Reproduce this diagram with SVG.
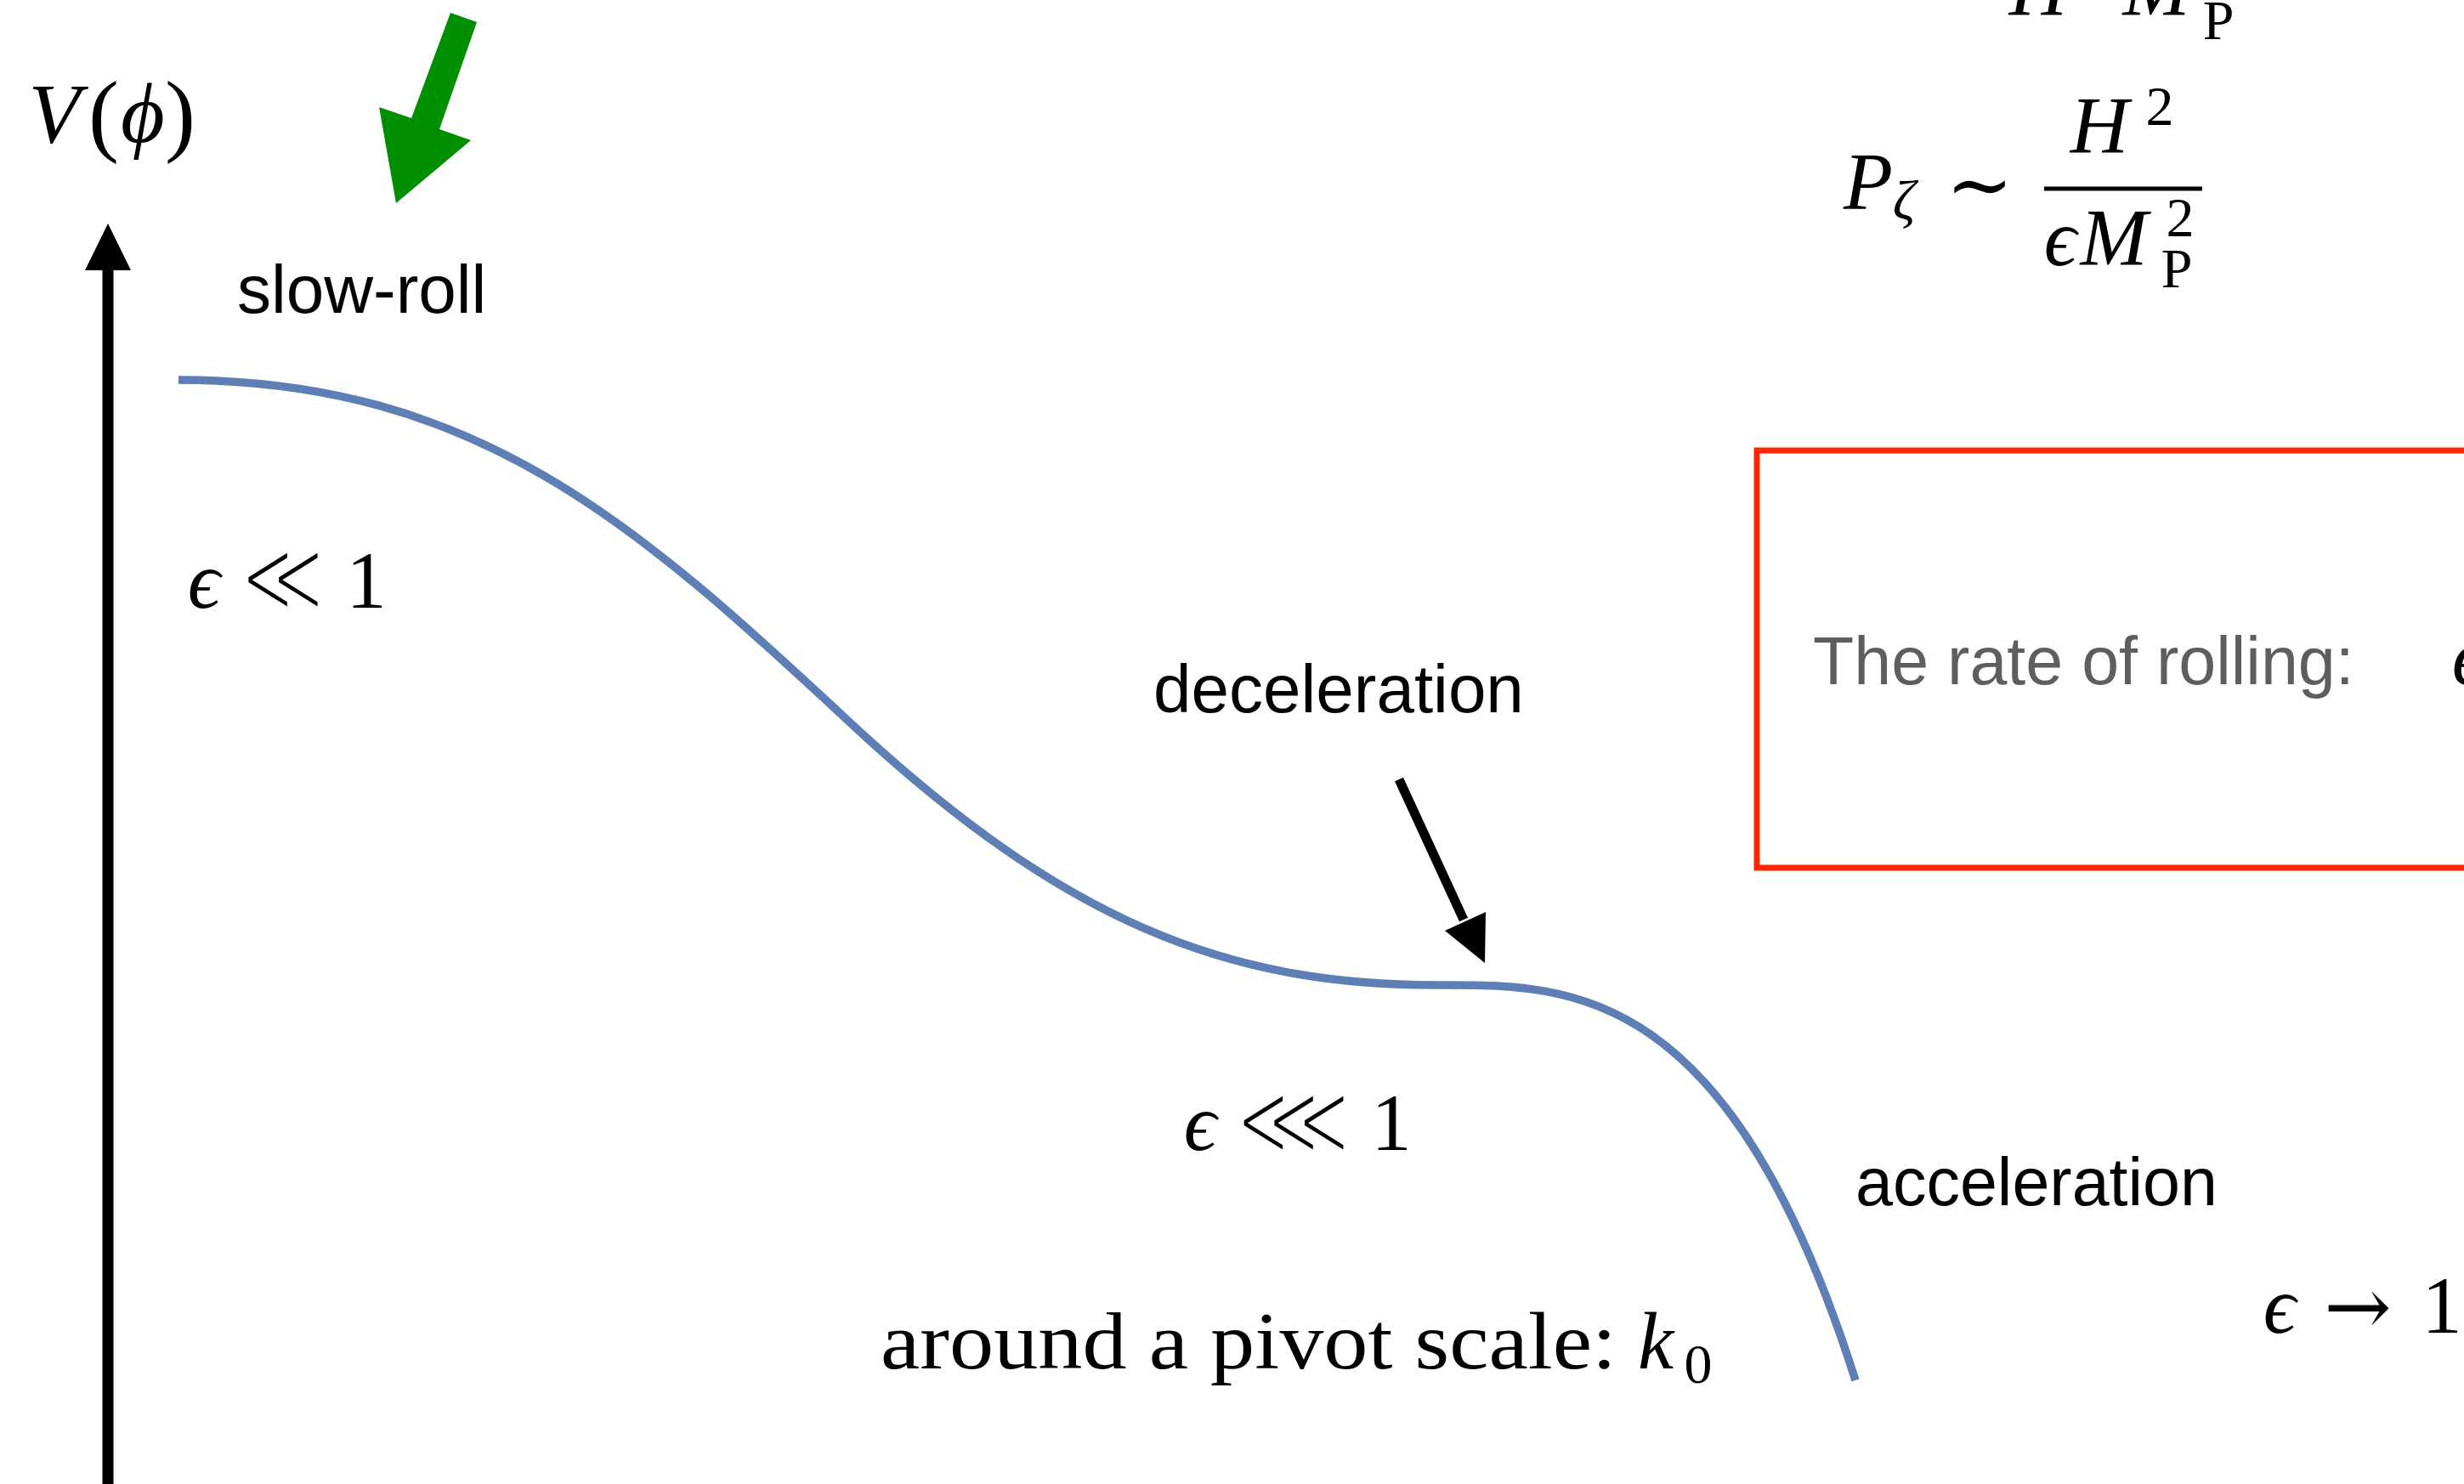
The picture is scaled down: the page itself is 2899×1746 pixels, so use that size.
<svg xmlns="http://www.w3.org/2000/svg" width="2899" height="1746" viewBox="0 0 2899 1746">
<style>
.sans{font-family:"Liberation Sans",Arial,sans-serif;fill:#000;}
.mi{font-family:"Liberation Serif","DejaVu Serif",serif;font-style:italic;fill:#000;text-anchor:middle;}
.rm{font-family:"Liberation Serif","DejaVu Serif",serif;fill:#000;text-anchor:middle;}
.sym{font-family:"DejaVu Serif","DejaVu Sans",serif;fill:#000;text-anchor:middle;}
.thin{stroke:#fff;stroke-width:4.5;}
.big{font-size:95px;}
.sm{font-size:66px;}
</style>
<rect width="2899" height="1746" fill="#fff"/>

<g id="axis">
<line x1="127" y1="1746" x2="127" y2="316" stroke="#000" stroke-width="13"/>
<polygon points="127,263 154,318 100,318" fill="#000"/>
</g>

<g id="potential-curve">
<path d="M210,447 C560,447 750,617 1000,850 C1250,1082.5 1440,1159 1690,1159 C1840,1159 2032,1148 2183,1624" fill="none" stroke="#5D7FB5" stroke-width="9.5"/>
</g>

<g id="connectors">
<polygon id="green-arrow" points="530,15 561,26 517,152 554,165 466,239 446,126 484,139" fill="#008F00"/>
<g id="decel-arrow">
<line x1="1646" y1="917" x2="1722" y2="1082" stroke="#000" stroke-width="11"/>
<polygon points="1747,1133 1700,1095 1748,1073" fill="#000"/>
</g>
</g>

<g id="label-vphi">
<text class="mi" x="64" y="167" font-size="100">V</text>
<text class="rm" x="122" y="170" font-size="108">(</text>
<text class="mi" x="168" y="167" font-size="100">ϕ</text>
<text class="rm" x="212" y="170" font-size="108">)</text>
</g>

<g id="top-formula">
<text class="mi big" x="2398" y="18">H</text>
<text class="mi big" x="2537" y="18">M</text>
<text class="rm sm" x="2610" y="46">P</text>
</g>

<g id="power-spectrum">
<text class="mi big" x="2198" y="246">P</text>
<text class="mi sm" x="2240" y="258">ζ</text>
<text class="sym big" x="2329" y="250">∼</text>
<line x1="2405" y1="222" x2="2591" y2="222" stroke="#000" stroke-width="5"/>
<text class="mi big" x="2470" y="180">H</text>
<text class="rm sm" x="2541" y="147">2</text>
<text class="mi big" x="2424" y="312">ϵ</text>
<text class="mi big" x="2487" y="312">M</text>
<text class="rm sm" x="2565" y="278">2</text>
<text class="rm sm" x="2561" y="338">P</text>
</g>

<g id="slow-roll">
<text class="sans" x="279" y="368" font-size="80">slow-roll</text>
</g>

<g id="eps-upper">
<text class="mi big" x="240" y="715">ϵ</text>
<text class="sym big thin" transform="translate(333,721) scale(1,1.3)" x="0" y="0">≪</text>
<text class="rm big" x="431" y="715">1</text>
</g>

<g id="deceleration">
<text class="sans" x="1357" y="838" font-size="80">deceleration</text>
</g>

<g id="eps-lower">
<text class="mi big" x="1412" y="1353">ϵ</text>
<text class="sym big thin" transform="translate(1522,1360) scale(1,1.3)" x="0" y="0">⋘</text>
<text class="rm big" x="1637" y="1353">1</text>
</g>

<g id="pivot">
<text x="1036" y="1610" font-size="95" textLength="866" lengthAdjust="spacingAndGlyphs" style="font-family:'Liberation Serif','DejaVu Serif',serif;fill:#000;">around a pivot scale:</text>
<text class="mi big" x="1948" y="1610">k</text>
<text class="rm sm" x="1998" y="1627">0</text>
</g>

<g id="acceleration">
<text class="sans" x="2183" y="1418" font-size="79">acceleration</text>
</g>

<g id="eps-right">
<text class="mi big" x="2682" y="1568">ϵ</text>
<text class="sym big" x="2774" y="1570">→</text>
<text class="rm big" x="2873" y="1568">1</text>
</g>

<g id="rate-box">
<rect x="2067" y="530" width="900" height="491" fill="none" stroke="#FF2600" stroke-width="7"/>
<text class="sans" x="2133" y="805" font-size="79" style="fill:#5E5E5E">The rate of rolling:</text>
<text class="mi big" x="2904" y="805">ϵ</text>
</g>
</svg>
